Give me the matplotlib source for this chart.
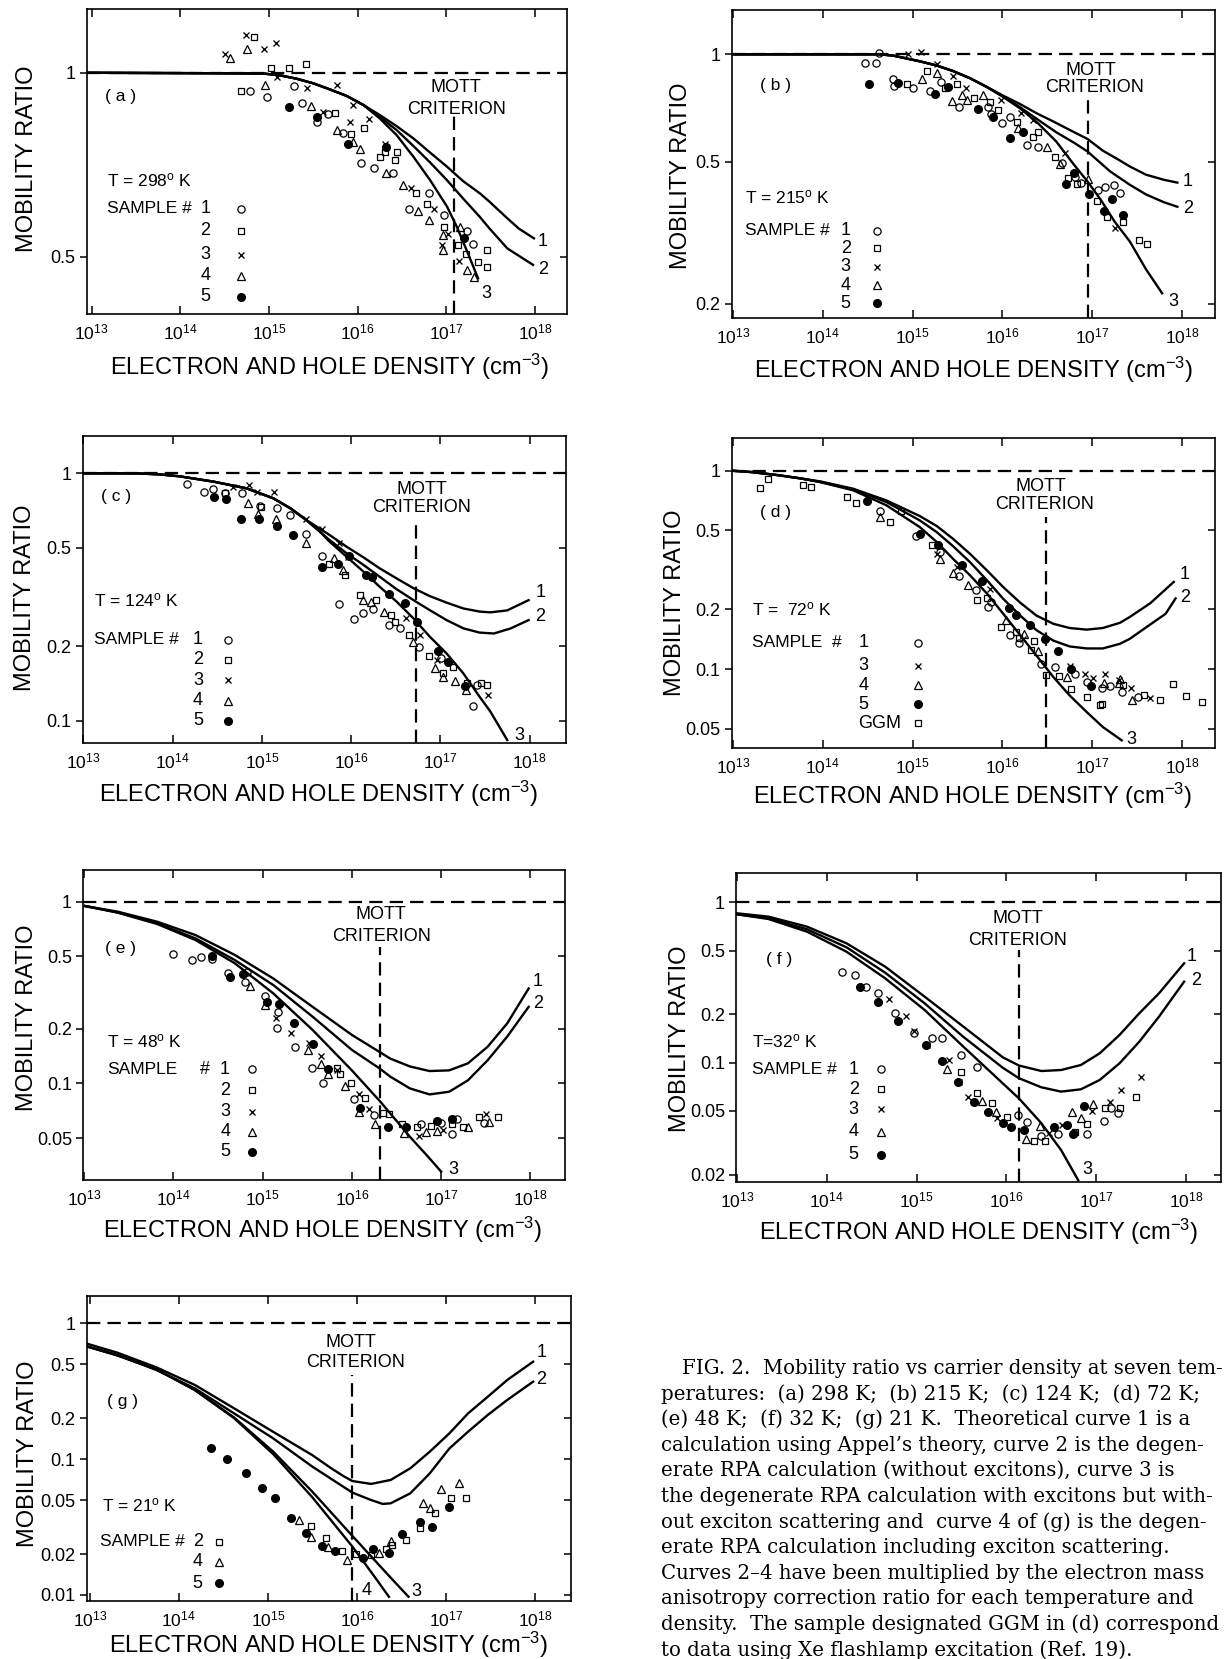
import numpy as np
import matplotlib
matplotlib.use("Agg")
import matplotlib.pyplot as plt
from matplotlib import lines as mlines
from matplotlib.ticker import FixedLocator, NullLocator, FixedFormatter, LogFormatterMathtext

plt.rcParams['font.family'] = ['Liberation Sans', 'DejaVu Sans']
plt.rcParams['mathtext.fontset'] = 'custom'
plt.rcParams['mathtext.rm'] = 'Liberation Sans'
plt.rcParams['mathtext.it'] = 'Liberation Sans:italic'
plt.rcParams['mathtext.bf'] = 'Liberation Sans:bold'
plt.rcParams['mathtext.default'] = 'regular'

# all points are (log10 density in cm^-3, mobility ratio)

# ---- (a) 298 K
a_curve1 = [(12.94, 1.0), (14.5, 0.998), (14.94, 0.997), (15.13, 0.99), (15.31, 0.978), (15.5, 0.961), (15.69, 0.939),
            (15.88, 0.916), (16.07, 0.885), (16.25, 0.853), (16.44, 0.818), (16.63, 0.781), (16.82, 0.74), (17.01, 0.702),
            (17.19, 0.665), (17.38, 0.635), (17.49, 0.615), (17.69, 0.578), (17.82, 0.556), (17.99, 0.536)]
a_curve2 = [(12.94, 1.0), (14.5, 0.998), (14.94, 0.997), (15.13, 0.99), (15.31, 0.978), (15.5, 0.961), (15.69, 0.939),
            (15.88, 0.916), (16.07, 0.885), (16.25, 0.847), (16.44, 0.806), (16.63, 0.759), (16.82, 0.713), (17.01, 0.667),
            (17.19, 0.623), (17.38, 0.581), (17.49, 0.556), (17.69, 0.516), (17.98, 0.485)]
a_curve3 = [(12.94, 1.0), (14.5, 0.998), (14.94, 0.997), (15.13, 0.99), (15.31, 0.978), (15.5, 0.961), (15.69, 0.939),
            (15.88, 0.916), (16.07, 0.885), (16.25, 0.842), (16.44, 0.791), (16.63, 0.729), (16.82, 0.667), (17.01, 0.604),
            (17.12, 0.56), (17.23, 0.513), (17.36, 0.461)]
a_mott = 17.09
a_s1 = [(14.79, 0.933), (14.98, 0.911), (15.28, 0.952), (15.37, 0.894), (15.54, 0.831), (15.67, 0.856), (15.84, 0.796),
        (16.04, 0.713), (16.19, 0.699), (16.4, 0.686), (16.81, 0.635), (16.58, 0.598), (16.97, 0.585), (17.24, 0.55),
        (17.3, 0.525)]
a_s2 = [(14.69, 0.934), (14.83, 1.145), (15.02, 1.019), (15.23, 1.019), (15.42, 1.032), (15.75, 0.86), (15.93, 0.793),
        (16.07, 0.813), (16.25, 0.729), (16.31, 0.743), (16.42, 0.72), (16.45, 0.741), (16.66, 0.635), (16.78, 0.611),
        (16.97, 0.56), (17.13, 0.523), (17.22, 0.506), (17.36, 0.491), (17.46, 0.513), (17.46, 0.482)]
a_s3 = [(14.74, 1.152), (14.51, 1.073), (14.94, 1.092), (15.08, 1.12), (15.09, 0.983), (15.43, 0.943), (15.77, 0.954),
        (15.95, 0.885), (15.92, 0.831), (16.13, 0.839), (15.61, 0.864), (16.31, 0.766), (16.6, 0.647), (16.86, 0.598),
        (16.95, 0.523), (17.15, 0.493), (17.02, 0.544)]
a_s4 = [(14.56, 1.059), (14.75, 1.092), (14.96, 0.954), (15.47, 0.882), (15.77, 0.806), (15.95, 0.771), (16.03, 0.749),
        (16.32, 0.686), (16.51, 0.655), (16.68, 0.593), (16.81, 0.574), (16.96, 0.543), (16.96, 0.513), (17.16, 0.56),
        (17.24, 0.475), (17.31, 0.463)]
a_s5 = [(15.23, 0.878), (15.54, 0.847), (15.89, 0.764), (16.32, 0.757), (17.2, 0.536)]

# ---- (b) 215 K
b_curve1 = [(12.99, 1.0), (14.64, 1.0), (14.79, 0.991), (15.08, 0.956), (15.27, 0.93), (15.45, 0.898), (15.64, 0.857),
            (15.82, 0.812), (16.0, 0.768), (16.2, 0.725), (16.38, 0.684), (16.57, 0.648), (16.75, 0.614), (16.95, 0.579),
            (17.12, 0.537), (17.31, 0.504), (17.42, 0.485), (17.6, 0.46), (17.8, 0.445), (17.95, 0.437)]
b_curve2 = [(12.99, 1.0), (14.64, 1.0), (14.79, 0.991), (15.08, 0.956), (15.27, 0.93), (15.45, 0.898), (15.64, 0.857),
            (15.82, 0.812), (16.0, 0.765), (16.2, 0.71), (16.4, 0.655), (16.6, 0.605), (16.8, 0.565), (16.95, 0.534),
            (17.2, 0.47), (17.42, 0.431), (17.6, 0.405), (17.8, 0.385), (17.95, 0.374)]
b_curve3 = [(12.99, 1.0), (14.64, 1.0), (14.79, 0.991), (15.08, 0.956), (15.27, 0.93), (15.45, 0.898), (15.64, 0.857),
            (15.82, 0.812), (16.0, 0.762), (16.2, 0.705), (16.4, 0.64), (16.6, 0.57), (16.8, 0.49), (16.95, 0.44),
            (17.1, 0.39), (17.25, 0.34), (17.42, 0.299), (17.6, 0.25), (17.78, 0.214)]
b_mott = 16.95
b_s1 = [(14.47, 0.944), (14.59, 0.948), (14.63, 1.006), (14.78, 0.851), (14.79, 0.815), (15.01, 0.803), (15.19, 0.791),
        (15.32, 0.838), (15.52, 0.714), (15.84, 0.71), (15.87, 0.681), (16.0, 0.643), (16.09, 0.669), (16.27, 0.557),
        (16.4, 0.551), (16.66, 0.495), (16.81, 0.454), (16.88, 0.437), (17.07, 0.417), (17.14, 0.426), (17.24, 0.429),
        (17.31, 0.408)]
b_s2 = [(14.94, 0.824), (15.16, 0.898), (15.36, 0.803), (15.49, 0.824), (15.68, 0.753), (15.86, 0.737), (15.95, 0.698),
        (16.16, 0.647), (16.34, 0.585), (16.4, 0.604), (16.59, 0.517), (16.73, 0.45), (16.83, 0.433), (17.05, 0.387),
        (17.17, 0.349), (17.35, 0.34), (17.52, 0.302), (17.61, 0.294)]
b_s3 = [(14.95, 1.0), (15.09, 1.017), (15.27, 0.937), (15.45, 0.87), (15.59, 0.803), (15.99, 0.745), (16.21, 0.684),
        (16.34, 0.655), (16.7, 0.528), (17.25, 0.326)]
b_s4 = [(15.1, 0.851), (15.27, 0.885), (15.44, 0.742), (15.55, 0.769), (15.61, 0.745), (15.78, 0.769), (16.17, 0.621),
        (16.5, 0.551), (16.64, 0.493), (16.96, 0.447)]
b_s5 = [(14.52, 0.826), (14.84, 0.829), (15.25, 0.774), (15.39, 0.812), (15.73, 0.702), (15.9, 0.666), (16.09, 0.581),
        (16.23, 0.607), (16.71, 0.432), (16.8, 0.464), (16.97, 0.406), (17.13, 0.364), (17.22, 0.393), (17.35, 0.355)]

# ---- (c) 124 K
c_curve1 = [(12.99, 1.0), (13.6, 0.999), (13.85, 0.99), (14.08, 0.972), (14.46, 0.925), (14.83, 0.869), (15.13, 0.792),
            (15.32, 0.722), (15.5, 0.647), (15.76, 0.563), (15.95, 0.505), (16.14, 0.457), (16.32, 0.413), (16.51, 0.376),
            (16.7, 0.343), (16.88, 0.319), (17.07, 0.3), (17.26, 0.284), (17.44, 0.276), (17.56, 0.274), (17.75, 0.279),
            (17.99, 0.307)]
c_curve2 = [(12.99, 1.0), (13.6, 0.999), (13.85, 0.99), (14.08, 0.972), (14.46, 0.925), (14.83, 0.869), (15.13, 0.792),
            (15.32, 0.722), (15.5, 0.647), (15.76, 0.537), (15.95, 0.475), (16.14, 0.426), (16.32, 0.382), (16.51, 0.34),
            (16.7, 0.307), (16.88, 0.28), (17.07, 0.255), (17.26, 0.236), (17.44, 0.227), (17.6, 0.225), (17.79, 0.236),
            (17.99, 0.255)]
c_curve3 = [(12.99, 1.0), (13.6, 0.999), (13.85, 0.99), (14.08, 0.972), (14.46, 0.925), (14.83, 0.869), (15.13, 0.792),
            (15.32, 0.722), (15.5, 0.647), (15.65, 0.581), (15.76, 0.529), (15.95, 0.46), (16.14, 0.4), (16.32, 0.348),
            (16.51, 0.303), (16.7, 0.259), (16.88, 0.219), (17.07, 0.187), (17.26, 0.155), (17.44, 0.125), (17.56, 0.109),
            (17.75, 0.0835)]
c_mott = 16.73
c_s1 = [(14.16, 0.905), (14.35, 0.838), (14.45, 0.861), (14.59, 0.83), (14.78, 0.83), (14.98, 0.738), (15.17, 0.726),
        (15.32, 0.678), (15.5, 0.568), (15.67, 0.463), (15.87, 0.296), (16.03, 0.258), (16.13, 0.272), (16.25, 0.282),
        (16.43, 0.243), (16.55, 0.237), (16.76, 0.199), (17.01, 0.179), (17.37, 0.115), (17.41, 0.139)]
c_s2 = [(14.59, 0.835), (14.99, 0.733), (15.75, 0.43), (15.93, 0.388), (16.1, 0.322), (16.28, 0.307), (16.45, 0.267),
        (16.49, 0.251), (16.65, 0.222), (16.87, 0.182), (17.03, 0.156), (17.14, 0.164), (17.3, 0.142), (17.46, 0.142),
        (17.52, 0.139)]
c_s3 = [(14.68, 0.883), (14.86, 0.897), (14.95, 0.843), (15.14, 0.843), (15.49, 0.651), (15.67, 0.593), (15.87, 0.521),
        (15.97, 0.46), (16.62, 0.259), (16.77, 0.222), (16.96, 0.176), (17.53, 0.127)]
c_s4 = [(14.85, 0.76), (14.96, 0.685), (15.16, 0.651), (15.49, 0.524), (15.81, 0.453), (15.91, 0.406), (16.13, 0.307),
        (16.22, 0.301), (16.37, 0.276), (16.7, 0.208), (16.94, 0.163), (17.03, 0.15), (17.16, 0.144), (17.29, 0.133)]
c_s5 = [(14.46, 0.8), (14.6, 0.785), (14.77, 0.656), (14.97, 0.656), (15.17, 0.612), (15.35, 0.563), (15.68, 0.417),
        (15.85, 0.43), (15.98, 0.463), (16.17, 0.388), (16.23, 0.382), (16.43, 0.325), (16.6, 0.3), (16.74, 0.251),
        (16.98, 0.192), (17.09, 0.173), (17.28, 0.138)]

# ---- (d) 72 K
d_curve1 = [(12.99, 1.0), (13.2, 0.985), (13.5, 0.95), (13.75, 0.915), (13.97, 0.884), (14.34, 0.811), (14.71, 0.708),
            (15.08, 0.591), (15.27, 0.526), (15.45, 0.454), (15.64, 0.381), (15.83, 0.314), (16.01, 0.259), (16.2, 0.216),
            (16.38, 0.186), (16.57, 0.169), (16.75, 0.161), (16.94, 0.158), (17.12, 0.161), (17.31, 0.171), (17.42, 0.183),
            (17.65, 0.215), (17.91, 0.275)]
d_curve2 = [(12.99, 1.0), (13.2, 0.985), (13.5, 0.95), (13.75, 0.915), (13.97, 0.877), (14.34, 0.805), (14.71, 0.695),
            (15.08, 0.562), (15.27, 0.49), (15.45, 0.417), (15.64, 0.346), (15.83, 0.28), (16.01, 0.226), (16.2, 0.186),
            (16.38, 0.157), (16.57, 0.139), (16.75, 0.13), (16.94, 0.127), (17.12, 0.127), (17.31, 0.134), (17.42, 0.142),
            (17.65, 0.168), (17.82, 0.19), (17.93, 0.227)]
d_curve3 = [(12.99, 1.0), (13.2, 0.985), (13.5, 0.95), (13.75, 0.915), (13.97, 0.877), (14.34, 0.796), (14.71, 0.669),
            (15.08, 0.52), (15.27, 0.437), (15.45, 0.36), (15.64, 0.297), (15.83, 0.24), (16.01, 0.19), (16.2, 0.148),
            (16.38, 0.117), (16.57, 0.091), (16.75, 0.0736), (16.94, 0.0607), (17.12, 0.051), (17.33, 0.0437)]
d_mott = 16.49
d_s1 = [(14.64, 0.624), (15.04, 0.468), (15.31, 0.389), (15.52, 0.294), (15.71, 0.249), (15.84, 0.205), (15.87, 0.218),
        (16.09, 0.148), (16.19, 0.136), (16.43, 0.106), (16.59, 0.102), (16.81, 0.0947), (16.94, 0.0859), (17.11, 0.0802),
        (17.2, 0.082), (17.33, 0.0765), (17.51, 0.0725)]
d_s3 = [(15.27, 0.381), (15.49, 0.327), (15.86, 0.254), (16.23, 0.142), (16.75, 0.104), (16.92, 0.0947), (17.01, 0.09),
        (17.14, 0.0947), (17.3, 0.088), (17.43, 0.0798), (17.65, 0.0711)]
d_s4 = [(14.64, 0.584), (15.31, 0.36), (15.45, 0.306), (15.62, 0.264), (16.04, 0.176), (16.24, 0.151), (16.4, 0.124),
        (16.72, 0.091), (17.31, 0.0886), (17.3, 0.0846), (17.45, 0.0697), (17.13, 0.0846)]
d_s5 = [(14.49, 0.7), (15.08, 0.481), (15.28, 0.42), (15.55, 0.333), (15.77, 0.277), (16.07, 0.203), (16.15, 0.188),
        (16.31, 0.167), (16.48, 0.142), (16.62, 0.123), (16.77, 0.1), (16.99, 0.082)]
d_ggm = [(13.3, 0.815), (13.39, 0.904), (13.78, 0.847), (13.87, 0.824), (14.27, 0.737), (14.37, 0.69), (14.75, 0.551),
         (14.87, 0.624), (15.22, 0.42), (15.72, 0.224), (15.83, 0.228), (15.99, 0.163), (16.15, 0.154), (16.19, 0.143),
         (16.32, 0.125), (16.35, 0.139), (16.49, 0.0936), (16.63, 0.0922), (16.76, 0.0789), (16.94, 0.0722),
         (17.11, 0.0668), (17.35, 0.0827), (17.58, 0.074), (17.76, 0.0697), (17.9, 0.084), (18.05, 0.073),
         (18.22, 0.0684), (17.09, 0.0658)]

# ---- (e) 48 K
e_curve1 = [(13.01, 0.947), (13.38, 0.881), (13.82, 0.776), (14.25, 0.655), (14.69, 0.509), (15.12, 0.378), (15.56, 0.264),
            (16.0, 0.185), (16.31, 0.149), (16.43, 0.137), (16.65, 0.124), (16.87, 0.117), (17.09, 0.118), (17.3, 0.129),
            (17.52, 0.159), (17.74, 0.214), (17.98, 0.333)]
e_curve2 = [(13.01, 0.947), (13.38, 0.873), (13.82, 0.76), (14.25, 0.628), (14.69, 0.477), (15.12, 0.348), (15.56, 0.233),
            (16.0, 0.153), (16.31, 0.121), (16.43, 0.109), (16.65, 0.0939), (16.87, 0.087), (17.09, 0.09), (17.3, 0.104),
            (17.52, 0.134), (17.74, 0.181), (17.98, 0.264)]
e_curve3 = [(13.01, 0.947), (13.38, 0.87), (13.82, 0.754), (14.25, 0.615), (14.69, 0.458), (15.12, 0.313), (15.56, 0.197),
            (16.0, 0.118), (16.31, 0.0803), (16.43, 0.0684), (16.65, 0.0509), (16.87, 0.0387), (17.0, 0.0327)]
e_mott = 16.31
e_s1 = [(14.0, 0.515), (14.21, 0.477), (14.31, 0.498), (14.43, 0.481), (14.61, 0.407), (14.8, 0.363), (14.83, 0.412),
        (15.03, 0.303), (15.17, 0.248), (15.16, 0.203), (15.36, 0.158), (15.55, 0.121), (15.68, 0.101), (16.02, 0.0816),
        (16.25, 0.067), (16.77, 0.0597), (17.12, 0.053), (17.18, 0.0634), (17.0, 0.0603), (17.48, 0.0603)]
e_s2 = [(15.83, 0.121), (15.87, 0.112), (15.99, 0.1), (16.15, 0.0827), (16.35, 0.0684), (16.42, 0.0678), (16.56, 0.0597),
        (16.73, 0.0573), (16.89, 0.0582), (17.12, 0.0597), (17.24, 0.0577), (17.42, 0.0655), (17.64, 0.0655),
        (17.12, 0.0634)]
e_s3 = [(15.15, 0.228), (15.32, 0.19), (15.52, 0.167), (15.66, 0.141), (15.83, 0.118), (16.08, 0.0874), (16.19, 0.0719),
        (16.75, 0.0513), (17.02, 0.0553), (17.5, 0.0675)]
e_s4 = [(14.86, 0.343), (15.03, 0.27), (15.51, 0.153), (15.66, 0.128), (15.73, 0.112), (15.92, 0.0967), (16.08, 0.0698),
        (16.26, 0.0597), (16.58, 0.0535), (16.83, 0.0542), (16.95, 0.0547), (17.3, 0.0573), (17.54, 0.0615)]
e_s5 = [(14.43, 0.502), (14.64, 0.386), (14.78, 0.4), (15.05, 0.281), (15.18, 0.272), (15.35, 0.214), (15.56, 0.165),
        (15.73, 0.12), (16.09, 0.0728), (16.41, 0.0573), (16.61, 0.0577), (16.95, 0.0623), (17.12, 0.0634)]

# ---- (f) 32 K
f_curve1 = [(13.0, 0.854), (13.35, 0.814), (13.78, 0.705), (14.22, 0.555), (14.65, 0.397), (15.09, 0.258), (15.52, 0.168),
            (15.96, 0.108), (16.14, 0.096), (16.39, 0.0887), (16.61, 0.09), (16.83, 0.0967), (17.04, 0.1144),
            (17.26, 0.1488), (17.48, 0.203), (17.7, 0.2707), (17.98, 0.4165)]
f_curve2 = [(13.0, 0.842), (13.35, 0.795), (13.78, 0.679), (14.22, 0.524), (14.65, 0.364), (15.09, 0.2344), (15.52, 0.145),
            (15.96, 0.093), (16.14, 0.08), (16.39, 0.0702), (16.61, 0.066), (16.83, 0.0682), (17.04, 0.078), (17.26, 0.099),
            (17.48, 0.135), (17.7, 0.1936), (17.98, 0.32)]
f_curve3 = [(13.0, 0.842), (13.35, 0.787), (13.78, 0.656), (14.22, 0.492), (14.65, 0.336), (15.09, 0.213), (15.52, 0.126),
            (15.96, 0.0743), (16.14, 0.0599), (16.39, 0.0419), (16.61, 0.0285), (16.8, 0.0185)]
f_mott = 16.14
f_s1 = [(14.17, 0.37), (14.31, 0.352), (14.44, 0.298), (14.57, 0.273), (14.76, 0.203), (14.97, 0.154), (15.17, 0.142),
        (15.28, 0.142), (15.49, 0.1116), (15.67, 0.0935), (16.13, 0.0472), (16.23, 0.0428), (16.39, 0.0349),
        (16.57, 0.0359), (16.75, 0.0366), (16.9, 0.0359), (17.09, 0.0435), (17.17, 0.0519), (17.24, 0.0483)]
f_s2 = [(15.49, 0.0879), (15.67, 0.065), (15.84, 0.0563), (16.01, 0.046), (16.31, 0.0326), (16.43, 0.0326),
        (16.76, 0.0371), (16.9, 0.0414), (17.1, 0.0519), (17.27, 0.0519), (17.44, 0.0614)]
f_s3 = [(14.69, 0.248), (14.88, 0.195), (14.97, 0.158), (15.12, 0.129), (15.36, 0.104), (15.47, 0.076), (15.57, 0.0614),
        (15.9, 0.045), (16.47, 0.0366), (16.62, 0.0408), (16.95, 0.0502), (17.15, 0.0571), (17.28, 0.0676), (17.5, 0.081)]
f_s4 = [(15.34, 0.0908), (15.73, 0.0579), (15.88, 0.0495), (16.22, 0.0332), (16.38, 0.0403), (16.73, 0.0495),
        (16.83, 0.045), (16.97, 0.0553)]
f_s5 = [(14.37, 0.295), (14.57, 0.24), (14.79, 0.183), (15.1, 0.129), (15.28, 0.103), (15.46, 0.076), (15.64, 0.0571),
        (15.79, 0.0495), (15.96, 0.0422), (16.05, 0.0395), (16.2, 0.038), (16.53, 0.0395), (16.67, 0.0408),
        (16.86, 0.0537), (16.74, 0.0359)]

# ---- (g) 21 K
g_curve1 = [(12.98, 0.705), (13.31, 0.608), (13.75, 0.474), (14.18, 0.352), (14.62, 0.237), (15.06, 0.159), (15.5, 0.107),
            (15.72, 0.085), (15.85, 0.075), (15.95, 0.069), (16.16, 0.0657), (16.38, 0.0703), (16.6, 0.0856),
            (16.82, 0.1136), (17.04, 0.155), (17.25, 0.2175), (17.47, 0.288), (17.69, 0.383), (17.98, 0.522)]
g_curve2 = [(12.98, 0.673), (13.31, 0.585), (13.75, 0.453), (14.18, 0.332), (14.62, 0.2175), (15.06, 0.1423),
            (15.5, 0.0881), (15.95, 0.0567), (16.16, 0.05), (16.29, 0.0468), (16.38, 0.0473), (16.6, 0.056),
            (16.82, 0.0787), (17.04, 0.12), (17.25, 0.1594), (17.47, 0.2114), (17.69, 0.273), (17.98, 0.372)]
g_curve3 = [(12.98, 0.673), (13.31, 0.581), (13.75, 0.458), (14.18, 0.323), (14.62, 0.203), (15.06, 0.1136),
            (15.5, 0.0576), (15.95, 0.0272), (16.38, 0.0134), (16.58, 0.0097)]
g_curve4 = [(12.98, 0.673), (13.31, 0.581), (13.75, 0.458), (14.18, 0.323), (14.62, 0.2006), (15.06, 0.109),
            (15.5, 0.0524), (15.95, 0.0227), (16.2, 0.0136), (16.36, 0.0097)]
g_mott = 15.95
g_s2 = [(15.48, 0.0322), (15.65, 0.0261), (15.83, 0.0212), (15.99, 0.02), (16.16, 0.0197), (16.33, 0.0217),
        (16.4, 0.0233), (16.55, 0.0254), (16.71, 0.031), (16.88, 0.04), (17.06, 0.0515), (17.23, 0.0515)]
g_s4 = [(15.35, 0.0357), (15.48, 0.0266), (15.68, 0.0227), (15.89, 0.0181), (16.25, 0.0205), (16.38, 0.0251),
        (16.74, 0.0479), (16.82, 0.0435), (16.95, 0.06), (17.15, 0.0664)]
g_s5 = [(14.36, 0.12), (14.54, 0.1), (14.75, 0.0787), (14.94, 0.061), (15.08, 0.0515), (15.26, 0.0367), (15.43, 0.0288),
        (15.61, 0.023), (15.76, 0.0212), (16.07, 0.0186), (16.18, 0.0217), (16.36, 0.0205), (16.51, 0.0281),
        (16.71, 0.0347), (16.84, 0.0318), (17.04, 0.0447)]

x_exponents = [13, 14, 15, 16, 17, 18]
caption = [
    "FIG. 2.  Mobility ratio vs carrier density at seven tem-",
    "peratures:  (a) 298 K;  (b) 215 K;  (c) 124 K;  (d) 72 K;",
    "(e) 48 K;  (f) 32 K;  (g) 21 K.  Theoretical curve 1 is a",
    "calculation using Appel\u2019s theory, curve 2 is the degen-",
    "erate RPA calculation (without excitons), curve 3 is",
    "the degenerate RPA calculation with excitons but with-",
    "out exciton scattering and  curve 4 of (g) is the degen-",
    "erate RPA calculation including exciton scattering.",
    "Curves 2\u20134 have been multiplied by the electron mass",
    "anisotropy correction ratio for each temperature and",
    "density.  The sample designated GGM in (d) correspond",
    "to data using Xe flashlamp excitation (Ref. 19).",
]

MARK = {
    'circle': dict(marker='o', ms=5.2, mfc='none', mec='black', mew=0.9),
    'square': dict(marker='s', ms=4.7, mfc='none', mec='black', mew=0.9),
    'cross': dict(marker='x', ms=4.7, mec='black', mew=0.95),
    'tri': dict(marker='^', ms=5.4, mfc='none', mec='black', mew=0.9),
    'dot': dict(marker='o', ms=5.6, mfc='black', mec='black', mew=0.9),
}
STD = ['circle', 'square', 'cross', 'tri', 'dot']

panels = [
    dict(rect=[0.0708, 0.8107, 0.3922, 0.1837], xlim=(12.944, 18.36), ylim=(0.403, 1.27),
         yticks=[1, 0.5], ylabels=['1', '0.5'], mott=a_mott, mott_top=0.653,
         curves=[a_curve1, a_curve2, a_curve3], samples=[a_s1, a_s2, a_s3, a_s4, a_s5], styles=STD,
         tag='( a )', tag_xy=(0.071, 0.713), mott_xy=(0.769, 0.744), crit_xy=(0.771, 0.672),
         temp='T = 298$^{o}$ K', temp_xy=(0.043, 0.44), prefix='SAMPLE #', prefix_x=0.043,
         rows=['1', '2', '3', '4', '5'], row_y=[0.345, 0.273, 0.194, 0.125, 0.057], num_x=0.258, num_ha='right',
         mark_x=0.322, clabels=[('1', 0.950, 0.237), ('2', 0.950, 0.147), ('3', 0.832, 0.068)],
         xlab=(0.506, -0.124), ylab=(-0.125, 0.509)),
    dict(rect=[0.5979, 0.8081, 0.3948, 0.1858], xlim=(12.987, 18.37), ylim=(0.182, 1.33),
         yticks=[1, 0.5, 0.2], ylabels=['1', '0.5', '0.2'], mott=b_mott, mott_top=0.719,
         curves=[b_curve1, b_curve2, b_curve3], samples=[b_s1, b_s2, b_s3, b_s4, b_s5], styles=STD,
         tag='( b )', tag_xy=(0.0913, 0.757), mott_xy=(0.744, 0.805), crit_xy=(0.75, 0.749),
         temp='T = 215$^{o}$ K', temp_xy=(0.027, 0.394), prefix='SAMPLE #', prefix_x=0.027,
         rows=['1', '2', '3', '4', '5'], row_y=[0.284, 0.227, 0.167, 0.108, 0.049], num_x=0.246, num_ha='right',
         mark_x=0.30, clabels=[('1', 0.944, 0.443), ('2', 0.944, 0.357), ('3', 0.913, 0.054)],
         xlab=(0.501, -0.118), ylab=(-0.106, 0.4625)),
    dict(rect=[0.0676, 0.5523, 0.3949, 0.1849], xlim=(12.994, 18.41), ylim=(0.0814, 1.415),
         yticks=[1, 0.5, 0.2, 0.1], ylabels=['1', '0.5', '0.2', '0.1'], mott=c_mott, mott_top=0.726,
         curves=[c_curve1, c_curve2, c_curve3], samples=[c_s1, c_s2, c_s3, c_s4, c_s5], styles=STD,
         tag='( c )', tag_xy=(0.0695, 0.802), mott_xy=(0.701, 0.824), crit_xy=(0.701, 0.768),
         temp='T = 124$^{o}$ K', temp_xy=(0.023, 0.465), prefix='SAMPLE #', prefix_x=0.023,
         rows=['1', '2', '3', '4', '5'], row_y=[0.335, 0.27, 0.203, 0.137, 0.072], num_x=0.249, num_ha='right',
         mark_x=0.301, clabels=[('1', 0.947, 0.489), ('2', 0.947, 0.411), ('3', 0.903, 0.025)],
         xlab=(0.487, -0.119), ylab=(-0.1186, 0.474)),
    dict(rect=[0.5979, 0.5489, 0.3948, 0.1869], xlim=(12.987, 18.37), ylim=(0.0398, 1.457),
         yticks=[1, 0.5, 0.2, 0.1, 0.05], ylabels=['1', '0.5', '0.2', '0.1', '0.05'], mott=d_mott, mott_top=0.747,
         curves=[d_curve1, d_curve2, d_curve3], samples=[d_s1, d_s3, d_s4, d_s5, d_ggm],
         styles=['circle', 'cross', 'tri', 'dot', 'square'],
         tag='( d )', tag_xy=(0.0913, 0.76), mott_xy=(0.639, 0.846), crit_xy=(0.647, 0.785),
         temp='T =  72$^{o}$ K', temp_xy=(0.041, 0.448), prefix='SAMPLE  #', prefix_x=0.041,
         rows=['1', '3', '4', '5', 'GGM'], row_y=[0.341, 0.266, 0.204, 0.143, 0.081], num_x=0.262, num_ha='left',
         mark_x=0.385, clabels=[('1', 0.938, 0.562), ('2', 0.938, 0.487), ('3', 0.826, 0.029)],
         xlab=(0.499, -0.106), ylab=(-0.1186, 0.471)),
    dict(rect=[0.0679, 0.2887, 0.3939, 0.1869], xlim=(12.99, 18.39), ylim=(0.0294, 1.495),
         yticks=[1, 0.5, 0.2, 0.1, 0.05], ylabels=['1', '0.5', '0.2', '0.1', '0.05'], mott=e_mott, mott_top=0.753,
         curves=[e_curve1, e_curve2, e_curve3], samples=[e_s1, e_s2, e_s3, e_s4, e_s5], styles=STD,
         tag='( e )', tag_xy=(0.077, 0.747), mott_xy=(0.617, 0.855), crit_xy=(0.619, 0.787),
         temp='T = 48$^{o}$ K', temp_xy=(0.05, 0.446), prefix='SAMPLE', prefix_x=0.05,
         rows=['#  1', '2', '3', '4', '5'], row_y=[0.357, 0.29, 0.22, 0.156, 0.091], num_x=0.305, num_ha='right',
         mark_x=0.35, clabels=[('1', 0.943, 0.64), ('2', 0.943, 0.568), ('3', 0.767, 0.0345)],
         xlab=(0.497, -0.113), ylab=(-0.1157, 0.522)),
    dict(rect=[0.6014, 0.2877, 0.3961, 0.1859], xlim=(12.99, 18.39), ylim=(0.0181, 1.517),
         yticks=[1, 0.5, 0.2, 0.1, 0.05, 0.02], ylabels=['1', '0.5', '0.2', '0.1', '0.05', '0.02'], mott=f_mott,
         mott_top=0.751, curves=[f_curve1, f_curve2, f_curve3], samples=[f_s1, f_s2, f_s3, f_s4, f_s5], styles=STD,
         tag='( f )', tag_xy=(0.0887, 0.721), mott_xy=(0.581, 0.854), crit_xy=(0.581, 0.781),
         temp='T=32$^{o}$ K', temp_xy=(0.032, 0.454), prefix='SAMPLE #', prefix_x=0.032,
         rows=['1', '2', '3', '4', '5'], row_y=[0.364, 0.30, 0.235, 0.162, 0.087], num_x=0.253, num_ha='right',
         mark_x=0.298, clabels=[('1', 0.94, 0.73), ('2', 0.948, 0.652), ('3', 0.725, 0.04)],
         xlab=(0.5, -0.113), ylab=(-0.115, 0.465)),
    dict(rect=[0.0708, 0.0351, 0.3953, 0.1837], xlim=(12.965, 18.40), ylim=(0.00906, 1.59),
         yticks=[1, 0.5, 0.2, 0.1, 0.05, 0.02, 0.01], ylabels=['1', '0.5', '0.2', '0.1', '0.05', '0.02', '0.01'],
         mott=g_mott, mott_top=0.741, curves=[g_curve1, g_curve2, g_curve3, g_curve4],
         samples=[g_s2, g_s4, g_s5], styles=['square', 'tri', 'dot'],
         tag='( g )', tag_xy=(0.075, 0.653), mott_xy=(0.547, 0.847), crit_xy=(0.556, 0.781),
         temp='T = 21$^{o}$ K', temp_xy=(0.032, 0.314), prefix='SAMPLE #', prefix_x=0.027,
         rows=['2', '4', '5'], row_y=[0.194, 0.128, 0.057], num_x=0.24, num_ha='right',
         mark_x=0.274, clabels=[('1', 0.94, 0.814), ('2', 0.94, 0.727), ('3', 0.682, 0.03), ('4', 0.579, 0.035)],
         xlab=(0.50, -0.094), ylab=(-0.122, 0.484)),
]

fig = plt.figure(figsize=(12.24, 16.59), dpi=100)
DASH = (0, (6, 3.2))

for p in panels:
    ax = fig.add_axes(p['rect'])
    ax.set_xscale('log')
    ax.set_yscale('log')
    ax.set_xlim(10 ** p['xlim'][0], 10 ** p['xlim'][1])
    ax.set_ylim(*p['ylim'])
    for s in ax.spines.values():
        s.set_linewidth(1.2)

    ax.axhline(1.0, color='black', lw=1.6, ls=DASH)
    ax.axvline(10 ** p['mott'], ymax=p['mott_top'], color='black', lw=1.6, ls=DASH)

    for c in p['curves']:
        ln, r = zip(*c)
        ax.plot(10 ** np.array(ln), r, color='black', lw=1.7)
    for pts, st in zip(p['samples'], p['styles']):
        ln, r = zip(*pts)
        ax.plot(10 ** np.array(ln), r, ls='none', **MARK[st])

    ax.xaxis.set_major_locator(FixedLocator([10.0 ** e for e in x_exponents]))
    ax.xaxis.set_major_formatter(LogFormatterMathtext())
    ax.xaxis.set_minor_locator(NullLocator())
    ax.yaxis.set_major_locator(FixedLocator(p['yticks']))
    ax.yaxis.set_major_formatter(FixedFormatter(p['ylabels']))
    ax.yaxis.set_minor_locator(NullLocator())
    ax.tick_params(axis='x', which='major', direction='in', top=True, length=6, width=1.1, labelsize=12.5, pad=6)
    ax.tick_params(axis='y', which='major', direction='out', right=True, length=5, width=1.1,
                   labelsize=13, pad=3)
    for t in ax.yaxis.get_major_ticks():
        t.tick2line.set_marker(mlines.TICKLEFT)

    ax.set_xlabel('ELECTRON AND HOLE DENSITY (cm$^{-3}$)', fontsize=17)
    ax.xaxis.set_label_coords(*p['xlab'])
    ax.set_ylabel('MOBILITY RATIO', fontsize=17, va='center')
    ax.yaxis.set_label_coords(*p['ylab'])

    tr = ax.transAxes
    ax.text(*p['tag_xy'], p['tag'], transform=tr, ha='center', va='center', fontsize=12.5)
    ax.text(*p['mott_xy'], 'MOTT', transform=tr, ha='center', va='center', fontsize=13)
    ax.text(*p['crit_xy'], 'CRITERION', transform=tr, ha='center', va='center', fontsize=13)
    ax.text(*p['temp_xy'], p['temp'], transform=tr, ha='left', va='center', fontsize=12.5)
    ax.text(p['prefix_x'], p['row_y'][0], p['prefix'], transform=tr, ha='left', va='center', fontsize=12.5)
    for lab, yy, st in zip(p['rows'], p['row_y'], p['styles']):
        ax.text(p['num_x'], yy, lab, transform=tr, ha=p['num_ha'], va='center', fontsize=13)
        ax.plot([p['mark_x']], [yy], transform=tr, clip_on=False, ls='none', **MARK[st])
    for lab, xx, yy in p['clabels']:
        ax.text(xx, yy, lab, transform=tr, ha='center', va='center', fontsize=13)

y0 = 1368.3
for i, line in enumerate(caption):
    x = 682.3 if i == 0 else 660.8
    fig.text(x / 1224, 1 - (y0 + i * 25.6) / 1659, line, ha='left', va='center',
             fontsize=14.2, family='DejaVu Serif')

fig.savefig('out.png', dpi=100)
